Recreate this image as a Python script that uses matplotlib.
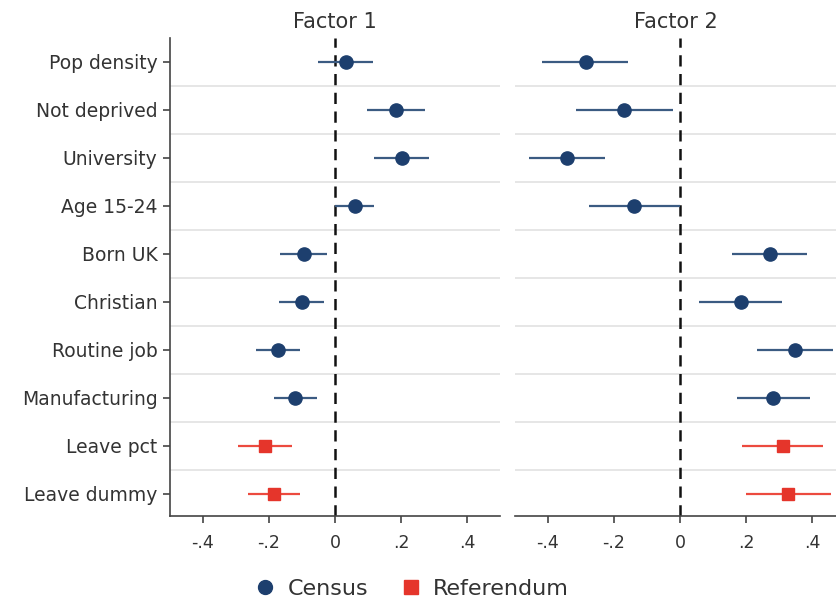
import numpy as np
import matplotlib.pyplot as plt
from matplotlib.lines import Line2D

plt.rcParams['font.family'] = ['DejaVu Sans']

# rows, top to bottom
labels = ['Pop density', 'Not deprived', 'University', 'Age 15-24', 'Born UK',
          'Christian', 'Routine job', 'Manufacturing', 'Leave pct', 'Leave dummy']
source = ['Census'] * 8 + ['Referendum'] * 2

# Factor 1 estimates and CIs
f1_est = [0.033, 0.185, 0.202, 0.061, -0.095, -0.101, -0.174, -0.120, -0.212, -0.186]
f1_lo = [-0.050, 0.096, 0.117, 0.000, -0.167, -0.171, -0.239, -0.184, -0.293, -0.265]
f1_hi = [0.114, 0.274, 0.284, 0.119, -0.025, -0.032, -0.107, -0.055, -0.131, -0.107]

# Factor 2 estimates and CIs
f2_est = [-0.286, -0.170, -0.343, -0.139, 0.273, 0.184, 0.348, 0.283, 0.311, 0.328]
f2_lo = [-0.417, -0.315, -0.458, -0.275, 0.159, 0.058, 0.235, 0.172, 0.187, 0.199]
f2_hi = [-0.157, -0.020, -0.227, 0.000, 0.386, 0.308, 0.463, 0.394, 0.434, 0.458]

xticks = [-0.4, -0.2, 0, 0.2, 0.4]
xticklabels = ['-.4', '-.2', '0', '.2', '.4']

navy = '#1d3f6e'
navy_line = '#3b5b82'
red = '#e5352b'
red_line = '#ec4a3f'
txt = '#333333'

fig = plt.figure(figsize=(8.37, 5.97), dpi=100)
ax1 = fig.add_axes([170/837, 1 - 516/597, 330/837, 478/597])
ax2 = fig.add_axes([515/837, 1 - 516/597, 322/837, 478/597])

ypos = np.arange(1, len(labels) + 1)

panels = [(ax1, f1_est, f1_lo, f1_hi, 'Factor 1', (-0.5, 0.5)),
          (ax2, f2_est, f2_lo, f2_hi, 'Factor 2', (-0.5, 0.476))]

for ax, est, lo, hi, title, xl in panels:
    for i in range(len(labels)):
        if source[i] == 'Census':
            c, lc, m, ms = navy, navy_line, 'o', 9.5
        else:
            c, lc, m, ms = red, red_line, 's', 9
        ax.plot([lo[i], hi[i]], [ypos[i], ypos[i]], color=lc, lw=1.6, zorder=3,
                solid_capstyle='butt')
        ax.plot(est[i], ypos[i], marker=m, color=c, ms=ms, zorder=4, ls='none')
    ax.axvline(0, color='#111111', lw=1.8, ls=(0, (4.5, 3)), zorder=2)
    for g in ypos[:-1] + 0.5:
        ax.axhline(g, color='#e6e6e6', lw=1.4, zorder=1)
    ax.set_xlim(*xl)
    ax.set_ylim(10.46, 0.5)
    ax.set_xticks(xticks)
    ax.set_xticklabels(xticklabels, fontsize=12.5, color=txt)
    ax.set_title(title, fontsize=15, color=txt, pad=7)
    for s in ['top', 'right']:
        ax.spines[s].set_visible(False)
    ax.spines['bottom'].set_color('#444444')
    ax.spines['bottom'].set_linewidth(1.2)
    ax.tick_params(axis='x', length=5, width=1.2, color='#444444', pad=8)

ax1.set_yticks(ypos)
ax1.set_yticklabels(labels, fontsize=13.5, color=txt)
ax1.spines['left'].set_color('#444444')
ax1.spines['left'].set_linewidth(1.2)
ax1.tick_params(axis='y', length=5, width=1.2, color='#444444', pad=4)

ax2.spines['left'].set_visible(False)
ax2.set_yticks([])

handles = [Line2D([], [], marker='o', color=navy, ls='none', ms=10),
           Line2D([], [], marker='s', color=red, ls='none', ms=10)]
fig.legend(handles, ['Census', 'Referendum'], loc='center', ncol=2,
           bbox_to_anchor=(0.485, 0.014), frameon=False, fontsize=16,
           handletextpad=0.0, columnspacing=0.9, labelcolor=txt)

fig.savefig('out.png', dpi=100)
